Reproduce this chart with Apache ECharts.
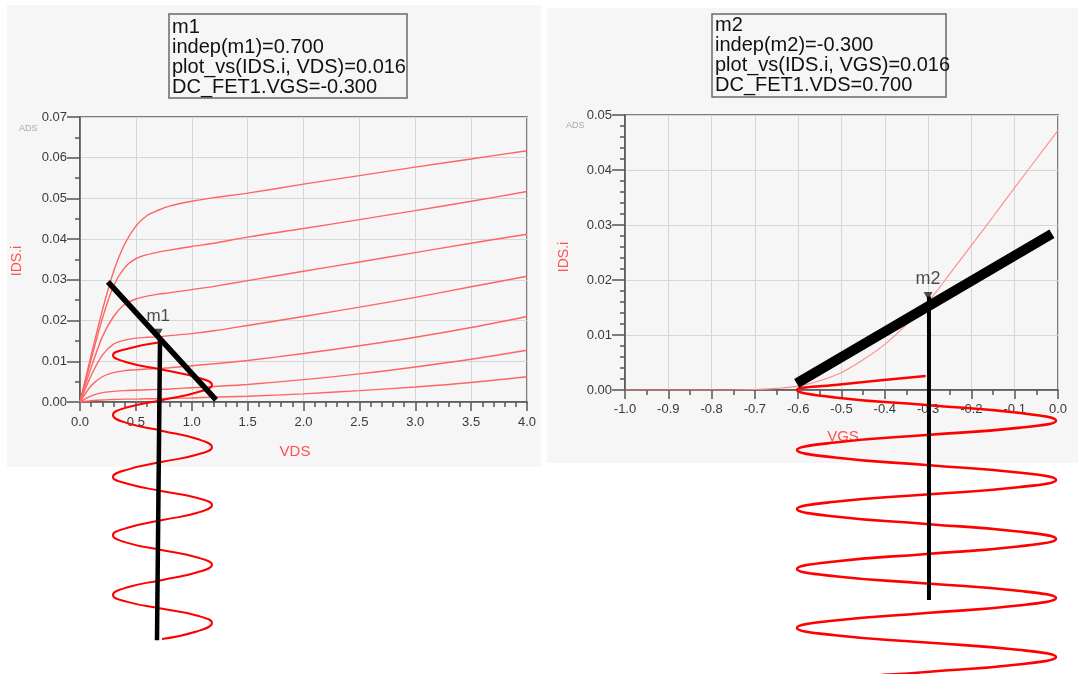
<!DOCTYPE html>
<html>
<head>
<meta charset="utf-8">
<script src="https://cdn.jsdelivr.net/npm/echarts@6/dist/echarts.min.js"></script>
<style>
html,body{margin:0;padding:0;background:#fff;}
#c{width:1078px;height:674px;}
</style>
</head>
<body>
<div id="c"></div>
<script>
// ---------- DATA ----------
// Left plot: IDS.i vs VDS, one curve per VGS
const vds = [0, 0.1, 0.2, 0.3, 0.4, 0.5, 0.6, 0.7, 0.8, 1.0, 1.2, 1.5, 2.0, 2.5, 3.0, 3.5, 4.0];
const vgsSteps = [0, -0.1, -0.2, -0.3, -0.4, -0.5, -0.6];
const idsVgs0   = [0, 0.0115, 0.0225, 0.0320, 0.0388, 0.0432, 0.0458, 0.0471, 0.0481, 0.0493, 0.0502, 0.0513, 0.0535, 0.0556, 0.0577, 0.0597, 0.0617];
const idsVgsM01 = [0, 0.0105, 0.0205, 0.0285, 0.0330, 0.0352, 0.0362, 0.0368, 0.0373, 0.0382, 0.0390, 0.0405, 0.0426, 0.0448, 0.0470, 0.0493, 0.0517];
const idsVgsM02 = [0, 0.0085, 0.0160, 0.0210, 0.0240, 0.0253, 0.0260, 0.0265, 0.0268, 0.0276, 0.0284, 0.0298, 0.0321, 0.0344, 0.0367, 0.0390, 0.0412];
const idsVgsM03 = [0, 0.0065, 0.0115, 0.0142, 0.0152, 0.0157, 0.0159, 0.0160, 0.0163, 0.0168, 0.0175, 0.0188, 0.0210, 0.0233, 0.0257, 0.0283, 0.0309];
const idsVgsM04 = [0, 0.0040, 0.0062, 0.0072, 0.0077, 0.0079, 0.0081, 0.0082, 0.0084, 0.0089, 0.0094, 0.0102, 0.0119, 0.0138, 0.0159, 0.0183, 0.0210];
const idsVgsM05 = [0, 0.0015, 0.0023, 0.0026, 0.0028, 0.0029, 0.0030, 0.0031, 0.0032, 0.0035, 0.0038, 0.0043, 0.0055, 0.0069, 0.0086, 0.0105, 0.0127];
const idsVgsM06 = [0, 0.0003, 0.0005, 0.0006, 0.0007, 0.0007, 0.0008, 0.0008, 0.0009, 0.0010, 0.0012, 0.0014, 0.0020, 0.0028, 0.0037, 0.0048, 0.0062];
const leftCurves = [idsVgs0, idsVgsM01, idsVgsM02, idsVgsM03, idsVgsM04, idsVgsM05, idsVgsM06];

// Right plot: IDS.i vs VGS at VDS = 0.7
const vgs = [-1.0, -0.9, -0.8, -0.7, -0.65, -0.6, -0.55, -0.5, -0.45, -0.4, -0.35, -0.3, -0.25, -0.2, -0.15, -0.1, -0.05, 0.0];
const idsTransfer = [0, 0, 0, 0.0001, 0.0003, 0.0007, 0.0017, 0.0032, 0.0055, 0.0083, 0.0119, 0.0160, 0.0211, 0.0263, 0.0315, 0.0368, 0.0420, 0.0472];

// Markers
const m1Point = [0.7, 0.016];
const m2Point = [-0.3, 0.016];
const m1Readout = ['m1', 'indep(m1)=0.700', 'plot_vs(IDS.i, VDS)=0.016', 'DC_FET1.VGS=-0.300'];
const m2Readout = ['m2', 'indep(m2)=-0.300', 'plot_vs(IDS.i, VGS)=0.016', 'DC_FET1.VDS=0.700'];

// Hand-drawn annotations (in each plot's own data units)
const leftSlashVds = [0.25, 1.217];
const leftSlashIds = [0.0295, 0.0005];
const leftStemVds = [0.716, 0.689];
const leftStemIds = [0.0152, -0.0585];
const leftWaveVds = [0.716, 0.425, 0.295, 0.425, 0.738, 1.051, 1.181, 1.051, 0.738, 0.425, 0.295, 0.425, 0.738, 1.051, 1.181, 1.051, 0.738, 0.425, 0.295, 0.425, 0.738, 1.051, 1.181, 1.051, 0.738, 0.425, 0.295, 0.425, 0.738, 1.051, 1.181, 1.051, 0.738, 0.425, 0.295, 0.425, 0.738, 1.051, 1.181, 1.051, 0.734];
const leftWaveIds = [0.0147, 0.0131, 0.0115, 0.0097, 0.0079, 0.0060, 0.0042, 0.0024, 0.0005, -0.0013, -0.0032, -0.0052, -0.0071, -0.0091, -0.0111, -0.0129, -0.0147, -0.0166, -0.0184, -0.0201, -0.0219, -0.0236, -0.0253, -0.0272, -0.0290, -0.0309, -0.0327, -0.0346, -0.0364, -0.0382, -0.0400, -0.0418, -0.0437, -0.0455, -0.0474, -0.0491, -0.0508, -0.0525, -0.0543, -0.0563, -0.0582];

const rightBarVgs = [-0.6035, -0.014];
const rightBarIds = [0.0012, 0.0284];
const rightStemVgs = [-0.298, -0.298];
const rightStemIds = [0.017, -0.0382];
const rightWaveVgs = [-0.3056, -0.5152, -0.6028, -0.5152, -0.3037, -0.0922, -0.0046, -0.0922, -0.3037, -0.5152, -0.6028, -0.5152, -0.3037, -0.0922, -0.0046, -0.0922, -0.3037, -0.5152, -0.6028, -0.5152, -0.3037, -0.0922, -0.0046, -0.0922, -0.3037, -0.5152, -0.6028, -0.5152, -0.3037, -0.0922, -0.0046, -0.0922, -0.3037, -0.5152, -0.6028, -0.5152, -0.3037, -0.0922, -0.0046, -0.0922, -0.3037, -0.5152, -0.6028];
const rightWaveIds = [0.00255, 0.0009, 0, -0.00136, -0.00273, -0.00415, -0.00558, -0.00688, -0.00818, -0.00955, -0.01091, -0.01227, -0.01364, -0.0150, -0.01636, -0.01768, -0.0190, -0.02032, -0.02164, -0.0230, -0.02436, -0.02573, -0.02709, -0.02845, -0.02982, -0.03118, -0.03255, -0.03386, -0.03518, -0.0365, -0.03782, -0.03918, -0.04055, -0.04191, -0.04327, -0.04459, -0.04591, -0.04723, -0.04855, -0.04991, -0.05127, -0.05264, -0.0540];

// ---------- CHART ----------
const zip = (a, b) => a.map((v, i) => [v, b[i]]);
const FONT = '"Liberation Sans", Arial, sans-serif';
const fmt1 = v => (Math.abs(v) < 1e-9 ? 0 : v).toFixed(1);
const fmt2 = v => (Math.abs(v) < 1e-9 ? 0 : v).toFixed(2);

const axisCommon = {
  axisLine: { show: true, onZero: false, lineStyle: { color: '#555', width: 1.5 } },
  splitLine: { show: true, lineStyle: { color: '#d6d6d6', width: 1 } },
  axisLabel: { color: '#3a3a3a', fontSize: 13, fontFamily: FONT }
};

const chart = echarts.init(document.getElementById('c'), null, { renderer: 'canvas' });

const series = [];
leftCurves.forEach((c, i) => {
  series.push({
    type: 'line', xAxisIndex: 0, yAxisIndex: 0, name: 'VGS=' + vgsSteps[i],
    data: zip(vds, c), showSymbol: false, smooth: 0.3,
    lineStyle: { color: '#ff6464', width: 1.4 }, z: 3, silent: true
  });
});
series.push({
  type: 'line', xAxisIndex: 1, yAxisIndex: 1, name: 'IDS vs VGS',
  data: zip(vgs, idsTransfer), showSymbol: false, smooth: 0.3,
  lineStyle: { color: '#ff8c8c', width: 1.1 }, z: 3, silent: true
});
// markers
series.push({
  type: 'scatter', xAxisIndex: 0, yAxisIndex: 0, data: [m1Point],
  symbol: 'triangle', symbolRotate: 180, symbolSize: [9, 8], symbolOffset: [0, -4],
  itemStyle: { color: '#222' }, z: 6, silent: true,
  label: { show: true, formatter: 'm1', position: 'top', distance: 4, color: '#222', fontSize: 17, fontFamily: FONT }
});
series.push({
  type: 'scatter', xAxisIndex: 1, yAxisIndex: 1, data: [m2Point],
  symbol: 'triangle', symbolRotate: 180, symbolSize: [9, 8], symbolOffset: [0, -6],
  itemStyle: { color: '#222' }, z: 6, silent: true,
  label: { show: true, formatter: 'm2', position: 'top', distance: 4, color: '#222', fontSize: 18, fontFamily: FONT }
});
// annotations
const ann = (xi, xs, ys, color, width, smooth, z) => ({
  type: 'line', xAxisIndex: xi, yAxisIndex: xi, data: zip(xs, ys), showSymbol: false,
  smooth: smooth, clip: false, silent: true, z: z,
  lineStyle: { color: color, width: width, cap: 'butt' }
});
series.push(ann(0, leftWaveVds, leftWaveIds, '#ff0000', 2, 0.5, 7));
series.push(ann(0, leftSlashVds, leftSlashIds, '#000', 5.5, false, 8));
series.push(ann(0, leftStemVds, leftStemIds, '#000', 4.5, false, 8));
series.push(ann(1, rightWaveVgs, rightWaveIds, '#ff0000', 2.6, 0.5, 7));
series.push(ann(1, rightBarVgs, rightBarIds, '#000', 10, false, 8));
series.push(ann(1, rightStemVgs, rightStemIds, '#000', 4, false, 8));

const boxText = (lines, x, y) => ({
  type: 'text', left: x, top: y, z: 20,
  style: { text: lines.join('\n'), font: '20px ' + FONT, fill: '#111', lineHeight: 20 }
});

chart.setOption({
  backgroundColor: '#ffffff',
  animation: false,
  grid: [
    { left: 80, right: 551, top: 117, bottom: 272, show: true, borderColor: '#555', borderWidth: 1.5, backgroundColor: 'transparent' },
    { left: 625, right: 20, top: 115, bottom: 284, show: true, borderColor: '#555', borderWidth: 1.5, backgroundColor: 'transparent' }
  ],
  xAxis: [
    Object.assign({}, axisCommon, {
      type: 'value', gridIndex: 0, min: 0, max: 4, interval: 0.5,
      axisTick: { show: true, length: 9, lineStyle: { color: '#555', width: 1.5 } },
      minorTick: { show: true, splitNumber: 5, length: 5, lineStyle: { color: '#555', width: 1.5 } },
      axisLabel: Object.assign({}, axisCommon.axisLabel, { formatter: fmt1, margin: 14 })
    }),
    Object.assign({}, axisCommon, {
      type: 'value', gridIndex: 1, min: -1, max: 0, interval: 0.1,
      axisTick: { show: true, length: 9, lineStyle: { color: '#555', width: 1.5 } },
      minorTick: { show: true, splitNumber: 2, length: 5, lineStyle: { color: '#555', width: 1.5 } },
      axisLabel: Object.assign({}, axisCommon.axisLabel, { formatter: fmt1, margin: 13 })
    })
  ],
  yAxis: [
    Object.assign({}, axisCommon, {
      type: 'value', gridIndex: 0, min: 0, max: 0.07, interval: 0.01,
      axisTick: { show: true, length: 13, lineStyle: { color: '#555', width: 1.5 } },
      minorTick: { show: true, splitNumber: 2, length: 5, lineStyle: { color: '#555', width: 1.5 } },
      axisLabel: Object.assign({}, axisCommon.axisLabel, { formatter: fmt2, margin: 13 })
    }),
    Object.assign({}, axisCommon, {
      type: 'value', gridIndex: 1, min: 0, max: 0.05, interval: 0.01,
      axisTick: { show: true, length: 13, lineStyle: { color: '#555', width: 1.5 } },
      minorTick: { show: true, splitNumber: 5, length: 5, lineStyle: { color: '#555', width: 1.5 } },
      axisLabel: Object.assign({}, axisCommon.axisLabel, { formatter: fmt2, margin: 13 })
    })
  ],
  graphic: [
    { type: 'rect', shape: { x: 7, y: 5, width: 534, height: 462 }, style: { fill: '#f6f6f6' }, z: -10, silent: true },
    { type: 'rect', shape: { x: 547, y: 8, width: 531, height: 455 }, style: { fill: '#f6f6f6' }, z: -10, silent: true },
    { type: 'rect', shape: { x: 169, y: 14, width: 238, height: 84 }, style: { fill: '#f6f6f6', stroke: '#6a6a6a', lineWidth: 1.5 }, z: 19, silent: true },
    { type: 'rect', shape: { x: 712, y: 14, width: 234, height: 83 }, style: { fill: '#f6f6f6', stroke: '#6a6a6a', lineWidth: 1.5 }, z: 19, silent: true },
    boxText(m1Readout, 172, 17),
    boxText(m2Readout, 715, 15),
    { type: 'text', left: 19, top: 124, z: 5, style: { text: 'ADS', font: '9px ' + FONT, fill: '#aaaaaa' } },
    { type: 'text', left: 566, top: 121, z: 5, style: { text: 'ADS', font: '9px ' + FONT, fill: '#aaaaaa' } },
    { type: 'text', x: 17, y: 261, rotation: Math.PI / 2, z: 5,
      style: { text: 'IDS.i', font: '14px ' + FONT, fill: '#ff5050', align: 'center', verticalAlign: 'middle' } },
    { type: 'text', x: 564, y: 257, rotation: Math.PI / 2, z: 5,
      style: { text: 'IDS.i', font: '14px ' + FONT, fill: '#ff5050', align: 'center', verticalAlign: 'middle' } },
    { type: 'text', x: 295, y: 452, z: 5,
      style: { text: 'VDS', font: '15px ' + FONT, fill: '#ff5050', align: 'center', verticalAlign: 'middle' } },
    { type: 'text', x: 843, y: 437, z: 5,
      style: { text: 'VGS', font: '15px ' + FONT, fill: '#ff5050', align: 'center', verticalAlign: 'middle' } }
  ],
  series: series
});
</script>
</body>
</html>
